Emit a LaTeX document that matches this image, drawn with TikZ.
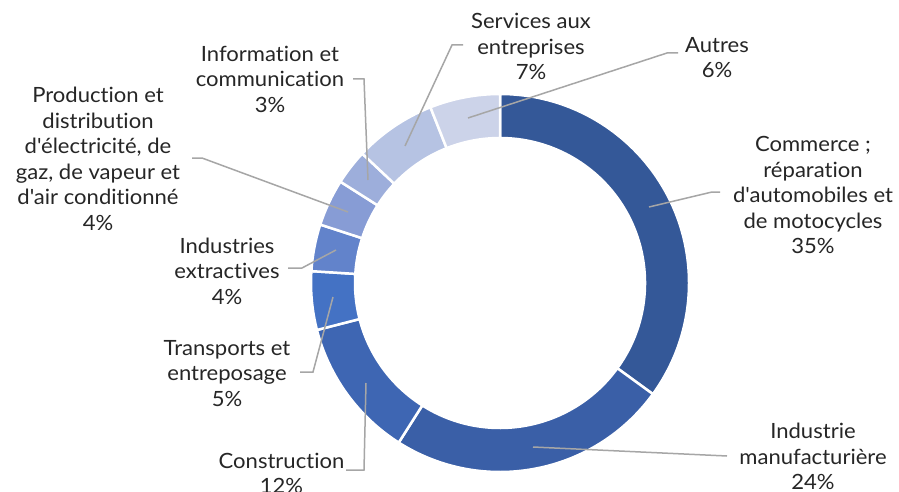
\documentclass[tikz,border=0pt]{standalone}
\usepackage{fontspec}
\newfontfamily\lbfont{Lato}[Ligatures=NoCommon, FakeStretch=1.05]
\definecolor{cCom}{HTML}{345898}
\definecolor{cInd}{HTML}{3A5FA7}
\definecolor{cCon}{HTML}{3E66B3}
\definecolor{cTra}{HTML}{4472C4}
\definecolor{cExt}{HTML}{6283CB}
\definecolor{cPro}{HTML}{879CD5}
\definecolor{cInf}{HTML}{9DAEDB}
\definecolor{cSer}{HTML}{B6C3E3}
\definecolor{cAut}{HTML}{CCD3E9}
\definecolor{txt}{HTML}{262626}
\definecolor{leadc}{HTML}{A6A6A6}
\newcommand\donutseg[3]{%
  \fill[seg, fill=#3] ({#1-90}:189) arc[start angle={#1-90}, end angle={#2-90}, radius=189]
    -- ({#2-90}:145) arc[start angle={#2-90}, end angle={#1-90}, radius=145] -- cycle;}
\begin{document}
\begin{tikzpicture}[x=1pt,y=-1pt,
  seg/.style={draw=white, line width=2.5pt, line join=miter},
  lbl/.style={align=center, font=\lbfont\fontsize{21}{25.5}\selectfont, text=txt, inner sep=0pt},
  lead/.style={draw=leadc, line width=1.5pt}]
\useasboundingbox[fill=white] (0,0) rectangle (899,492);
\begin{scope}[shift={(500,283)}]
  \donutseg{0}{126}{cCom}
  \donutseg{126}{212.4}{cInd}
  \donutseg{212.4}{255.6}{cCon}
  \donutseg{255.6}{273.6}{cTra}
  \donutseg{273.6}{288}{cExt}
  \donutseg{288}{302.4}{cPro}
  \donutseg{302.4}{313.2}{cInf}
  \donutseg{313.2}{338.4}{cSer}
  \donutseg{338.4}{360}{cAut}
\end{scope}
% labels
\node[lbl] (lSer) at (531,46.5) {Services aux\\entreprises\\7\%};
\node[lbl] (lAut) at (717,57.5) {Autres\\6\%};
\node[lbl] (lInf) at (270,79) {Information et\\communication\\3\%};
\node[lbl] (lPro) at (98,159) {Production et\\distribution\\d'électricité, de\\gaz, de vapeur et\\d'air conditionné\\4\%};
\node[lbl] (lExt) at (227,271) {Industries\\extractives\\4\%};
\node[lbl] (lTra) at (227,373.5) {Transports et\\entreposage\\5\%};
\node[lbl] (lCon) at (281.5,473.5) {Construction\\12\%};
\node[lbl] (lInd) at (813,456.5) {Industrie\\manufacturière\\24\%};
\node[lbl] (lCom) at (813,195) {Commerce ;\\réparation\\d'automobiles et\\de motocycles\\35\%};
% leader points
\coordinate (sAut) at (468,118); \coordinate (kAut) at (667,53); \coordinate (eAut) at (678,53);
\coordinate (sSer) at (405,146); \coordinate (kSer) at (452,45); \coordinate (eSer) at (463,45);
\coordinate (sInf) at (368,180); \coordinate (kInf) at (364,79); \coordinate (eInf) at (353,79);
\coordinate (sPro) at (348,212); \coordinate (kPro) at (202,158); \coordinate (ePro) at (192,158);
\coordinate (sExt) at (336,250); \coordinate (kExt) at (302,268); \coordinate (eExt) at (288,268);
\coordinate (sTra) at (333,297); \coordinate (kTra) at (313,372); \coordinate (eTra) at (300,372);
\coordinate (sCon) at (366,383); \coordinate (kCon) at (364,470); \coordinate (eCon) at (346,470);
\coordinate (sInd) at (533,447); \coordinate (eInd) at (727,456);
\coordinate (sCom) at (649,207); \coordinate (kCom) at (712,192); \coordinate (eCom) at (720,192);
\draw[lead] (sAut) -- (kAut) -- (eAut);
\draw[lead] (sSer) -- (kSer) -- (eSer);
\draw[lead] (sInf) -- (kInf) -- (eInf);
\draw[lead] (sPro) -- (kPro) -- (ePro);
\draw[lead] (sExt) -- (kExt) -- (eExt);
\draw[lead] (sTra) -- (kTra) -- (eTra);
\draw[lead] (sCon) -- (kCon) -- (eCon);
\draw[lead] (sInd) -- (eInd);
\draw[lead] (sCom) -- (kCom) -- (eCom);
\end{tikzpicture}
\end{document}
